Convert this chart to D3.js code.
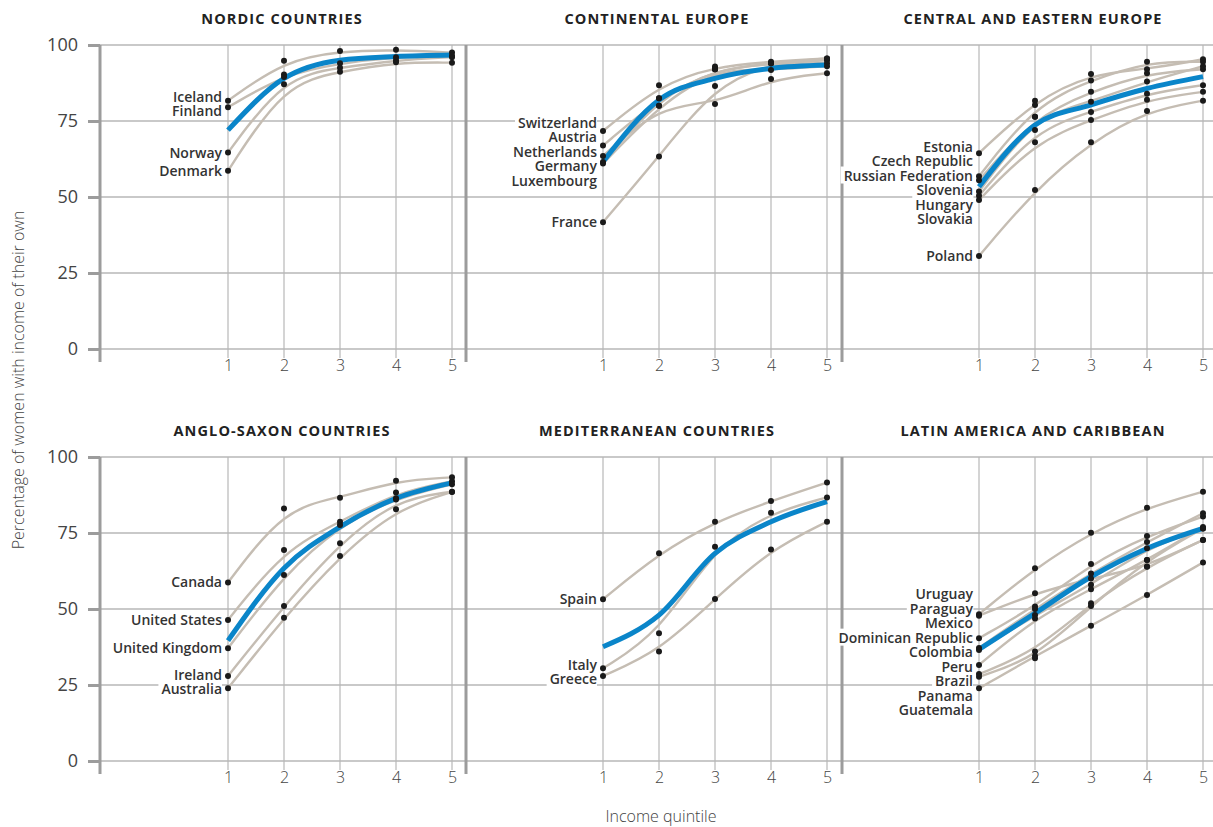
<!DOCTYPE html>
<html>
<head>
<meta charset="utf-8">
<script src="https://cdn.jsdelivr.net/npm/d3@7"></script>
<style>
  body { margin: 0; background: #fff; }
  svg { font-family: "Open Sans", sans-serif; display: block; }
</style>
</head>
<body>
<div id="chart"></div>
<script>
const WIDTH = 1213;
const HEIGHT = 827;

// quintiles and y ticks
const quintiles = [1, 2, 3, 4, 5];
const yTicks = [0, 25, 50, 75, 100];

// Nordic countries
const nordicCountries = ["Iceland", "Finland", "Norway", "Denmark"];
const nordicValues = [
  [81.7, 94.8, 98.0, 98.4, 97.5],
  [79.5, 90.3, 94.0, 96.0, 96.5],
  [64.6, 89.5, 92.5, 95.0, 96.0],
  [58.6, 87.1, 91.2, 94.3, 94.2]
];
const nordicAverage = [72.0, 89.0, 95.0, 96.2, 96.7];

// Continental Europe
const continentalCountries = ["Switzerland", "Austria", "Netherlands", "Germany", "Luxembourg", "France"];
const continentalValues = [
  [71.7, 86.8, 92.9, 94.5, 95.6],
  [66.9, 82.5, 92.0, 94.0, 95.0],
  [63.5, 80.0, 80.6, 88.8, 90.7],
  [61.5, 82.5, 92.0, 94.0, 94.0],
  [61.0, 80.0, 92.0, 91.8, 93.0],
  [41.7, 63.3, 86.5, 94.0, 95.6]
];
const continentalAverage = [61.6, 81.9, 89.0, 92.3, 93.4];

// Central and Eastern Europe
const ceeCountries = ["Estonia", "Czech Republic", "Russian Federation", "Slovenia", "Hungary", "Slovakia", "Poland"];
const ceeValues = [
  [64.4, 81.7, 90.5, 92.0, 95.3],
  [56.8, 80.3, 88.3, 94.5, 94.5],
  [55.5, 76.4, 84.6, 90.7, 92.0],
  [51.8, 76.4, 81.3, 88.0, 93.0],
  [50.4, 72.0, 78.0, 84.0, 86.8],
  [49.0, 68.0, 75.3, 82.0, 84.6],
  [30.6, 52.3, 68.0, 78.3, 81.7]
];
const ceeAverage = [53.4, 73.7, 80.3, 85.7, 89.6];

// Anglo-Saxon countries
const angloCountries = ["Canada", "United States", "United Kingdom", "Ireland", "Australia"];
const angloValues = [
  [58.7, 83.1, 86.6, 92.2, 93.3],
  [46.4, 69.4, 78.7, 88.3, 92.0],
  [37.1, 61.2, 77.6, 86.4, 91.0],
  [28.0, 51.0, 71.6, 86.0, 88.6],
  [23.9, 47.1, 67.4, 82.8, 88.5]
];
const angloAverage = [39.6, 63.4, 77.0, 86.4, 91.5];

// Mediterranean countries
const medCountries = ["Spain", "Italy", "Greece"];
const medValues = [
  [53.2, 68.3, 78.7, 85.5, 91.6],
  [30.5, 42.0, 70.5, 81.7, 86.7],
  [28.0, 36.0, 53.3, 69.6, 78.7]
];
const medAverage = [37.6, 48.0, 68.3, 78.7, 85.3];

// Latin America and Caribbean
const latamCountries = ["Uruguay", "Paraguay", "Mexico", "Dominican Republic", "Colombia", "Peru", "Brazil", "Panama", "Guatemala"];
const latamValues = [
  [48.3, 63.4, 75.1, 83.3, 88.6],
  [47.8, 55.2, 60.0, 64.0, 72.7],
  [40.4, 50.8, 64.8, 74.0, 80.4],
  [37.2, 50.0, 61.7, 72.0, 81.5],
  [36.5, 48.0, 58.0, 70.0, 76.5],
  [31.6, 46.9, 56.5, 66.1, 77.0],
  [28.6, 36.0, 51.9, 63.9, 72.7],
  [27.7, 33.8, 51.0, 66.1, 76.5],
  [23.9, 34.5, 44.5, 54.6, 65.3]
];
const latamAverage = [36.7, 48.6, 60.6, 69.9, 76.5];

const panels = [
  { title: "NORDIC COUNTRIES", countries: nordicCountries, values: nordicValues, average: nordicAverage },
  { title: "CONTINENTAL EUROPE", countries: continentalCountries, values: continentalValues, average: continentalAverage },
  { title: "CENTRAL AND EASTERN EUROPE", countries: ceeCountries, values: ceeValues, average: ceeAverage },
  { title: "ANGLO-SAXON COUNTRIES", countries: angloCountries, values: angloValues, average: angloAverage },
  { title: "MEDITERRANEAN COUNTRIES", countries: medCountries, values: medValues, average: medAverage },
  { title: "LATIN AMERICA AND CARIBBEAN", countries: latamCountries, values: latamValues, average: latamAverage }
];

// layout
const COL_AXIS = [100, 466, 842];
const COL_RIGHT = [466, 842, 1213];
const COL_Q1 = [228, 603, 979];
const Q_STEP = 56;
const ROW_TOP = [45, 457];
const PLOT_H = 304;
const LABEL_GAP = 14.5;

const GRID = "#b7b7b7";
const AXIS = "#9c9c9c";
const GREY_LINE = "#c5bdb3";
const BLUE = "#0a85c9";

const svg = d3.select("#chart")
  .append("svg")
  .attr("width", WIDTH)
  .attr("height", HEIGHT);

// push overlapping labels apart, keeping each group centred on its points
function spreadLabels(items, gap) {
  let clusters = items.map(d => ({ items: [d], center: d.y }));
  let merged = true;
  while (merged) {
    merged = false;
    for (let i = 0; i < clusters.length - 1; i++) {
      const a = clusters[i], b = clusters[i + 1];
      const aBottom = a.center + (a.items.length - 1) * gap / 2;
      const bTop = b.center - (b.items.length - 1) * gap / 2;
      if (bTop - aBottom < gap) {
        const all = a.items.concat(b.items);
        clusters.splice(i, 2, { items: all, center: d3.mean(all, d => d.y) });
        merged = true;
        break;
      }
    }
  }
  clusters.forEach(c => c.items.forEach((d, i) => {
    d.ly = c.center + (i - (c.items.length - 1) / 2) * gap;
  }));
}

panels.forEach((p, idx) => {
  const col = idx % 3;
  const row = Math.floor(idx / 3);
  const top = ROW_TOP[row];
  const axisX = COL_AXIS[col];
  const right = COL_RIGHT[col];

  const x = d3.scaleLinear().domain([1, 5]).range([COL_Q1[col], COL_Q1[col] + 4 * Q_STEP]);
  const y = d3.scaleLinear().domain([0, 100]).range([top + PLOT_H, top]);

  const g = svg.append("g");

  // horizontal gridlines
  g.selectAll(".hgrid")
   .data(yTicks)
   .enter()
   .append("line")
   .attr("x1", axisX)
   .attr("x2", right)
   .attr("y1", d => y(d))
   .attr("y2", d => y(d))
   .attr("stroke", GRID)
   .attr("stroke-width", 1.5);

  // vertical gridlines
  g.selectAll(".vgrid")
   .data(quintiles)
   .enter()
   .append("line")
   .attr("x1", d => x(d))
   .attr("x2", d => x(d))
   .attr("y1", top)
   .attr("y2", top + PLOT_H + 9)
   .attr("stroke", GRID)
   .attr("stroke-width", 1.2);

  // x tick labels
  const xAxis = d3.axisBottom(x).tickValues(quintiles).tickSize(0).tickPadding(2).tickFormat(d3.format("d"));
  const xg = g.append("g")
   .attr("transform", "translate(0," + (top + PLOT_H + 9) + ")")
   .call(xAxis);
  xg.select(".domain").remove();
  xg.selectAll("text")
    .attr("font-size", 16)
    .attr("font-weight", 300)
    .attr("fill", "#444")
    .style("font-family", "'Open Sans', sans-serif");

  // y axis labels on the left column only
  if (col === 0) {
    const yAxis = d3.axisLeft(y).tickValues(yTicks).tickSize(12).tickPadding(10);
    const yg = g.append("g")
     .attr("transform", "translate(" + axisX + ",0)")
     .call(yAxis);
    yg.select(".domain").remove();
    yg.selectAll("line").attr("stroke", AXIS).attr("stroke-width", 3);
    yg.selectAll("text")
      .attr("font-size", 18)
      .attr("font-weight", 400)
      .attr("fill", "#444")
      .style("font-family", "'Open Sans', sans-serif");
  }

  // thick axis line
  g.append("line")
   .attr("x1", axisX)
   .attr("x2", axisX)
   .attr("y1", top)
   .attr("y2", top + PLOT_H + 13)
   .attr("stroke", AXIS)
   .attr("stroke-width", 3);

  // panel title
  g.append("text")
   .attr("x", x(3) - 58)
   .attr("y", top - 21)
   .attr("text-anchor", "middle")
   .attr("font-size", 14.5)
   .attr("font-weight", 700)
   .attr("letter-spacing", 1.1)
   .attr("fill", "#222")
   .text(p.title);

  // country lines
  const countryLine = d3.line()
    .x((d, i) => x(quintiles[i]))
    .y(d => y(d))
    .curve(d3.curveBasis);

  g.selectAll(".country")
   .data(p.values)
   .enter()
   .append("path")
   .attr("d", countryLine)
   .attr("fill", "none")
   .attr("stroke", GREY_LINE)
   .attr("stroke-width", 2.4);

  // average line
  const avgLine = d3.line()
    .x((d, i) => x(quintiles[i]))
    .y(d => y(d))
    .curve(d3.curveMonotoneX);

  g.append("path")
   .datum(p.average)
   .attr("d", avgLine)
   .attr("fill", "none")
   .attr("stroke", BLUE)
   .attr("stroke-width", 5);

  // dots
  const dots = [];
  p.values.forEach(vals => vals.forEach((v, i) => dots.push({ q: quintiles[i], v: v })));
  g.selectAll(".dot")
   .data(dots)
   .enter()
   .append("circle")
   .attr("cx", d => x(d.q))
   .attr("cy", d => y(d.v))
   .attr("r", 3)
   .attr("fill", "#1a1a1a");

  // country labels at quintile 1
  const labels = p.countries.map((c, i) => ({ name: c, y: y(p.values[i][0]), order: i }));
  labels.sort((a, b) => a.y - b.y || a.order - b.order);
  spreadLabels(labels, LABEL_GAP);

  const lg = g.append("g");
  const texts = lg.selectAll("text")
   .data(labels)
   .enter()
   .append("text")
   .attr("x", x(1) - 6)
   .attr("y", d => d.ly)
   .attr("dy", "0.35em")
   .attr("text-anchor", "end")
   .attr("font-size", 14)
   .attr("font-weight", 600)
   .attr("fill", "#333")
   .text(d => d.name);

  texts.each(function() {
    const b = this.getBBox();
    lg.insert("rect", "text")
      .attr("x", b.x - 3)
      .attr("y", b.y + 1)
      .attr("width", b.width + 3)
      .attr("height", b.height - 2)
      .attr("fill", "#fff");
  });
});

// axis titles
svg.append("text")
   .attr("transform", "translate(24,380) rotate(-90)")
   .attr("text-anchor", "middle")
   .attr("font-size", 16)
   .attr("font-weight", 300)
   .attr("fill", "#444")
   .text("Percentage of women with income of their own");

svg.append("text")
   .attr("x", 661)
   .attr("y", 822)
   .attr("text-anchor", "middle")
   .attr("font-size", 16)
   .attr("font-weight", 300)
   .attr("fill", "#444")
   .text("Income quintile");
</script>
</body>
</html>
